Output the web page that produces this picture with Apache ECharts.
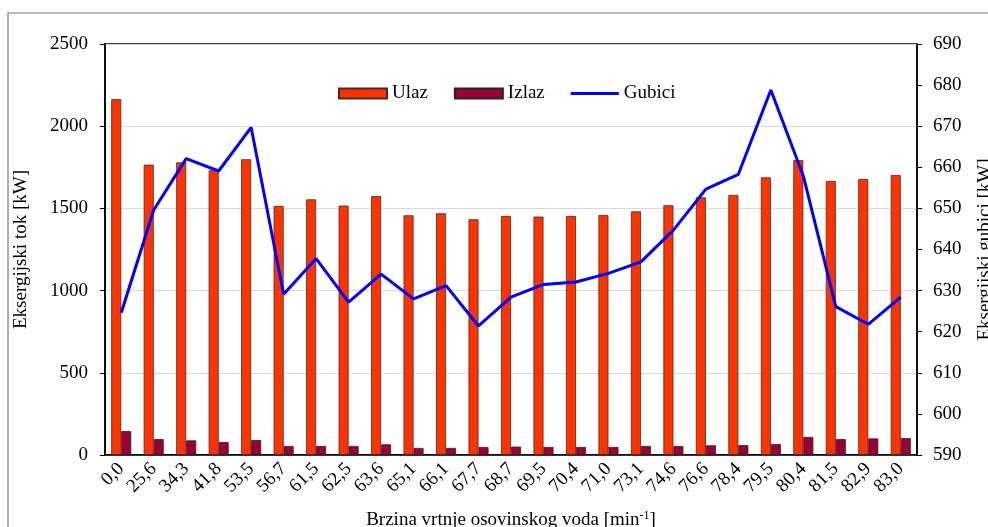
<!DOCTYPE html>
<html>
<head>
<meta charset="utf-8">
<script src="https://cdn.jsdelivr.net/npm/echarts@6/dist/echarts.min.js"></script>
<style>
  html, body { margin: 0; padding: 0; background: #fff; }
  #chart { width: 988px; height: 527px; }
</style>
</head>
<body>
<div id="chart"></div>
<script>
// brzina vrtnje osovinskog voda [min-1]
var categories = ["0,0","25,6","34,3","41,8","53,5","56,7","61,5","62,5","63,6","65,1","66,1","67,7","68,7",
                  "69,5","70,4","71,0","73,1","74,6","76,6","78,4","79,5","80,4","81,5","82,9","83,0"];
// eksergijski tok [kW]
var ulaz = [2165,1766,1780,1732,1799,1515,1555,1517,1575,1458,1470,1434,1454,
            1450,1454,1460,1482,1519,1567,1582,1689,1794,1667,1679,1703];
var izlaz = [146,97,89,79,91,55,55,55,65,43,43,49,51,
             49,49,49,55,55,59,60,67,110,97,101,103];
// eksergijski gubici [kW]
var gubici = [624.6,649.6,662.1,659.1,669.7,629.1,637.8,627.2,634.0,628.0,631.2,621.4,628.4,
              631.5,632.1,634.2,637.0,644.7,654.7,658.3,678.8,657.9,626.1,621.8,628.4];

var font = "'Liberation Serif', 'DejaVu Serif', serif";
var chart = echarts.init(document.getElementById('chart'), null, { renderer: 'canvas' });
var plain = function (v) { return String(v); };
// thin line icon; tiny corner specks keep the 48x10 box so the stripe isn't stretched
var lineIcon = 'path://M0,0L0.01,0L0,0.01Z M0,3.6L48,3.6L48,6.4L0,6.4Z M48,10L47.99,10L48,9.99Z';

chart.setOption({
  animation: false,
  backgroundColor: '#fff',
  textStyle: { fontFamily: font, color: '#000' },
  graphic: [
    { type: 'rect', silent: true, z: -1,
      shape: { x: 8, y: 13, width: 1100, height: 700 },
      style: { fill: 'none', stroke: '#777', lineWidth: 1.2 } },
    { type: 'rect', silent: true, z: 0,
      shape: { x: 105, y: 44, width: 812, height: 411 },
      style: { fill: 'none', stroke: '#000', lineWidth: 1.5 } }
  ],
  grid: { left: 105, right: 71, top: 44, bottom: 72, outerBoundsMode: 'none', containLabel: false },
  legend: {
    left: 333, top: 79,
    itemWidth: 48, itemHeight: 10, itemGap: 26,
    textStyle: { fontFamily: font, fontSize: 19, color: '#000' },
    data: [
      { name: 'Ulaz', icon: 'rect' },
      { name: 'Izlaz', icon: 'rect' },
      { name: 'Gubici', icon: lineIcon, itemStyle: { color: '#0000ff', borderWidth: 0 } }
    ]
  },
  xAxis: {
    type: 'category',
    data: categories,
    boundaryGap: true,
    axisLine: { lineStyle: { color: '#000', width: 1.5 } },
    axisTick: { alignWithLabel: false, length: 6, lineStyle: { color: '#000' } },
    axisLabel: { rotate: 45, interval: 0, margin: 11, fontFamily: font, fontSize: 19, color: '#000' },
    name: '{a|Brzina vrtnje osovinskog voda [min}{s|-1}{a|]}',
    nameLocation: 'middle',
    nameGap: 55,
    nameTextStyle: {
      rich: {
        a: { fontFamily: font, fontSize: 19, color: '#000' },
        s: { fontFamily: font, fontSize: 12, color: '#000', verticalAlign: 'top', padding: [0, 0, 8, 0] }
      }
    }
  },
  yAxis: [
    {
      type: 'value', min: 0, max: 2500, interval: 500,
      name: 'Eksergijski tok [kW]', nameLocation: 'middle', nameGap: 74,
      nameTextStyle: { fontFamily: font, fontSize: 19, color: '#000' },
      axisLine: { show: true, lineStyle: { color: '#000', width: 1.5 } },
      axisTick: { show: true, length: 5, lineStyle: { color: '#000' } },
      axisLabel: { fontFamily: font, fontSize: 19, color: '#000', margin: 17, formatter: plain },
      splitLine: { show: true, lineStyle: { color: '#d9d9d9', width: 1.2 } }
    },
    {
      type: 'value', min: 590, max: 690, interval: 10, position: 'right',
      name: 'Eksergijski gubici [kW]', nameLocation: 'middle', nameGap: 59, nameRotate: 90,
      nameTextStyle: { fontFamily: font, fontSize: 19, color: '#000' },
      axisLine: { show: true, lineStyle: { color: '#000', width: 1.5 } },
      axisTick: { show: true, length: 5, lineStyle: { color: '#000' } },
      axisLabel: { fontFamily: font, fontSize: 19, color: '#000', margin: 16, formatter: plain },
      splitLine: { show: false }
    }
  ],
  series: [
    {
      name: 'Ulaz', type: 'bar', data: ulaz, yAxisIndex: 0,
      barWidth: 10, barGap: '0%',
      itemStyle: { color: '#ff3300', borderColor: '#4a2a20', borderWidth: 0.8 }
    },
    {
      name: 'Izlaz', type: 'bar', data: izlaz, yAxisIndex: 0,
      barWidth: 10, barGap: '0%',
      itemStyle: { color: '#990033', borderColor: '#3a2025', borderWidth: 0.8 }
    },
    {
      name: 'Gubici', type: 'line', data: gubici, yAxisIndex: 1,
      symbol: 'none', z: 5,
      lineStyle: { color: '#0000ff', width: 3 },
      itemStyle: { color: '#0000ff' }
    }
  ]
});
</script>
</body>
</html>
